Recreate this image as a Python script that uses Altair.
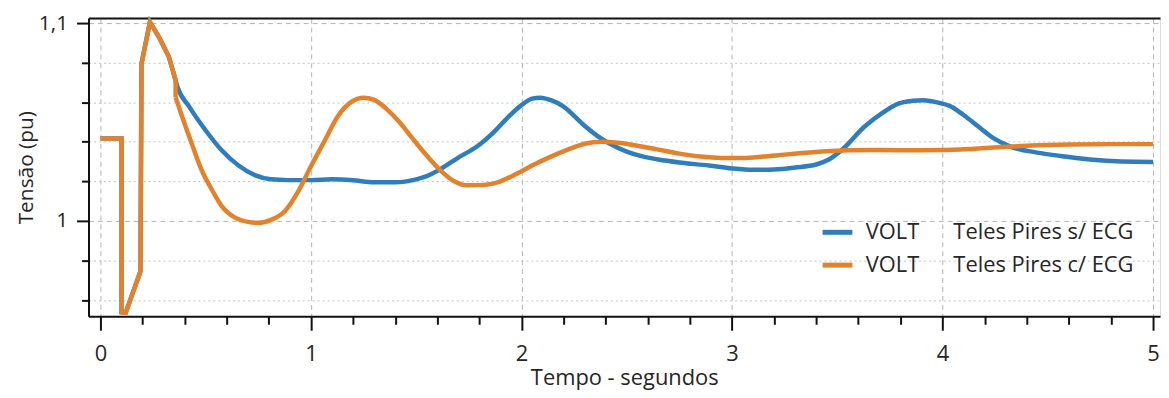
import altair as alt
import pandas as pd

# ---- data ----
series_names = ["Teles Pires s/ ECG", "Teles Pires c/ ECG"]
legend_prefix = "VOLT"

# early transient (identical for both cases, straight segments with vertical jumps)
t_early = [0.00, 0.10, 0.10, 0.12, 0.15, 0.19, 0.195, 0.235, 0.28, 0.325, 0.357]
v_early = [1.0417, 1.0417, 0.9538, 0.9535, 0.9625, 0.9745, 1.0794, 1.1005, 1.0925, 1.0830, 1.0710]
# small step of the c/ ECG case at 0.357 s
t_step_com = [0.357, 0.357]
v_step_com = [1.0710, 1.0625]

# without ECG (blue), smooth part
t_sem = [0.357, 0.365, 0.42, 0.50, 0.576, 0.656, 0.736, 0.81, 0.89, 1.00, 1.10, 1.20, 1.30, 1.40,
         1.50, 1.55, 1.62, 1.70, 1.79, 1.87, 1.94, 2.00, 2.05, 2.09, 2.14, 2.20, 2.29, 2.36,
         2.42, 2.50, 2.57, 2.65, 2.75, 2.89, 3.00, 3.10, 3.20, 3.30, 3.40, 3.46, 3.52, 3.63,
         3.72, 3.79, 3.86, 3.91, 3.97, 4.04, 4.10, 4.17, 4.24, 4.32, 4.45, 4.57, 4.70, 4.85, 5.00]
v_sem = [1.0710, 1.0680, 1.0580, 1.0457, 1.0357, 1.0280, 1.0230, 1.0210, 1.0206, 1.0206, 1.0210,
         1.0205, 1.0195, 1.0195, 1.0210, 1.0226, 1.0265, 1.0320, 1.0377, 1.0450, 1.0528, 1.0585,
         1.0618, 1.0623, 1.0610, 1.0578, 1.0490, 1.0430, 1.0390, 1.0350, 1.0327, 1.0310, 1.0295,
         1.0280, 1.0265, 1.0258, 1.0260, 1.0270, 1.0285, 1.0310, 1.0357, 1.0477, 1.0550, 1.0593,
         1.0607, 1.0610, 1.0600, 1.0578, 1.0535, 1.0477, 1.0420, 1.0377, 1.0345, 1.0327, 1.0310,
         1.0300, 1.0298]

# with ECG (orange), smooth part
t_com = [0.357, 0.387, 0.434, 0.481, 0.53, 0.576, 0.642, 0.70, 0.75, 0.81, 0.877, 0.94, 1.00,
         1.066, 1.127, 1.19, 1.25, 1.30, 1.36, 1.42, 1.48, 1.55, 1.62, 1.68, 1.74, 1.82, 1.90,
         1.98, 2.06, 2.14, 2.22, 2.30, 2.38, 2.46, 2.55, 2.65, 2.75, 2.85, 2.95, 3.05, 3.15,
         3.25, 3.40, 3.55, 3.70, 3.85, 4.00, 4.15, 4.30, 4.45, 4.60, 4.80, 5.00]
v_com = [1.0625, 1.0530, 1.0390, 1.0256, 1.0156, 1.0075, 1.0015, 0.9995, 0.9990, 1.0005, 1.0050,
         1.0150, 1.0276, 1.0407, 1.0528, 1.0600, 1.0623, 1.0612, 1.0565, 1.0500, 1.0420, 1.0330,
         1.0250, 1.0200, 1.0180, 1.0182, 1.0200, 1.0240, 1.0285, 1.0325, 1.0360, 1.0390, 1.0400,
         1.0395, 1.0380, 1.0360, 1.0340, 1.0325, 1.0318, 1.0318, 1.0325, 1.0335, 1.0348, 1.0357,
         1.0358, 1.0357, 1.0358, 1.0365, 1.0375, 1.0382, 1.0386, 1.0388, 1.0388]

x_major = [0, 1, 2, 3, 4, 5]
x_minor = [0.2, 0.4, 0.6, 0.8, 1.2, 1.4, 1.6, 1.8, 2.2, 2.4, 2.6, 2.8,
           3.2, 3.4, 3.6, 3.8, 4.2, 4.4, 4.6, 4.8]
y_major = [1.0, 1.1]
y_minor = [0.96, 0.98, 1.02, 1.04, 1.06, 1.08]

x_domain = [-0.0567, 5.0331]
y_domain = [0.95176, 1.10251]

BLUE = "#2f7dbd"
ORANGE = "#e2822c"
TEXT = "#262626"
FONT = "Open Sans"
FS = 22

nb = "\u00a0"
labels = [legend_prefix + nb * 6 + s for s in series_names]

early_rows, smooth_rows = [], []
i = 0
for lab, ts, vs in [(labels[0], t_early, v_early),
                    (labels[1], t_early + t_step_com, v_early + v_step_com)]:
    for t, v in zip(ts, vs):
        early_rows.append({"t": t, "v": v, "serie": lab, "i": i})
        i += 1
for lab, ts, vs in [(labels[0], t_sem, v_sem), (labels[1], t_com, v_com)]:
    for t, v in zip(ts, vs):
        smooth_rows.append({"t": t, "v": v, "serie": lab, "i": i})
        i += 1
df_early = pd.DataFrame(early_rows)
df_smooth = pd.DataFrame(smooth_rows)
df_all = pd.concat([df_early, df_smooth], ignore_index=True)

xs = alt.Scale(domain=x_domain, nice=False, zero=False)
ys = alt.Scale(domain=y_domain, nice=False, zero=False)
cs = alt.Scale(domain=labels, range=[BLUE, ORANGE])

smooth = alt.Chart(df_smooth).mark_line(strokeWidth=4.5, interpolate="monotone").encode(
    x=alt.X("t:Q", scale=xs, axis=alt.Axis(
        orient="bottom", values=x_major, title="Tempo - segundos",
        tickSize=14, tickWidth=2, tickColor="#111", domainColor="#111", domainWidth=2,
        labelFontSize=FS, labelFont=FONT, labelColor=TEXT, labelPadding=13,
        titleFontSize=FS, titleFont=FONT, titleColor=TEXT, titleFontWeight="normal",
        titlePadding=4,
        grid=True, gridDash=[5, 4], gridColor="#b4b4b4", gridWidth=1,
        labelFlush=False, labelOverlap=False)),
    y=alt.Y("v:Q", scale=ys, axis=alt.Axis(
        orient="left", values=y_major, title="Tensão (pu)",
        labelExpr="replace(format(datum.value, '.1~f'), '.', ',')",
        tickSize=12, tickWidth=2, tickColor="#111", domainColor="#111", domainWidth=2,
        labelFontSize=21, labelFont=FONT, labelColor=TEXT, labelPadding=9,
        titleFontSize=21, titleFont=FONT, titleColor=TEXT, titleFontWeight="normal",
        titlePadding=2,
        grid=True, gridDash=[5, 4], gridColor="#b4b4b4", gridWidth=1,
        labelFlush=False, labelOverlap=False)),
    color=alt.Color("serie:N", scale=cs,
                    legend=alt.Legend(
                        orient="none", legendX=736, legendY=198, title=None,
                        symbolType="stroke", symbolSize=900, symbolStrokeWidth=5,
                        labelFontSize=FS, labelFont=FONT, labelColor=TEXT,
                        labelOffset=11, rowPadding=4, padding=0, labelLimit=400)),
    order=alt.Order("i:Q"),
)

early = alt.Chart(df_early).mark_line(strokeWidth=4.5, strokeJoin="miter").encode(
    x=alt.X("t:Q", scale=xs, axis=None),
    y=alt.Y("v:Q", scale=ys, axis=None),
    color=alt.Color("serie:N", scale=cs, legend=None),
    order=alt.Order("i:Q"),
)

minor = alt.Chart(df_all).mark_point(opacity=0).encode(
    x=alt.X("t:Q", scale=xs, axis=alt.Axis(
        orient="bottom", values=x_minor, title=None, labels=False, domain=False,
        tickSize=8, tickWidth=2, tickColor="#111", grid=False)),
    y=alt.Y("v:Q", scale=ys, axis=alt.Axis(
        orient="left", values=y_minor, title=None, labels=False, domain=False,
        tickSize=7, tickWidth=2, tickColor="#111",
        grid=True, gridDash=[2, 3], gridColor="#c4c4c4", gridWidth=1)),
)

frame = alt.Chart(df_all).mark_point(opacity=0).encode(
    x=alt.X("t:Q", scale=xs, axis=alt.Axis(
        orient="top", title=None, labels=False, ticks=False, grid=False,
        domainColor="#111", domainWidth=2)),
    y=alt.Y("v:Q", scale=ys, axis=None),
)

chart = alt.layer(minor, frame, smooth, early).resolve_scale(
    x="shared", y="shared", color="shared"
).resolve_axis(
    x="independent", y="independent"
).properties(
    width=1078, height=300,
    autosize=alt.AutoSizeParams(type="none"),
    padding={"left": 81, "top": 9, "right": 1, "bottom": 75},
).configure_view(
    stroke="#9a9a9a", strokeWidth=1
).configure(background="white")

chart.save("out.html", embed_options={"renderer": "svg", "actions": False})
